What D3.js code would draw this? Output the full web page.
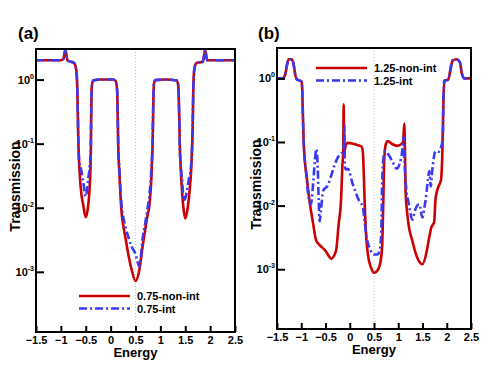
<!DOCTYPE html>
<html>
<head>
<meta charset="utf-8">
<script src="https://cdn.jsdelivr.net/npm/d3@7"></script>
<style>
  body { margin: 0; background: #fff; }
  svg { display: block; font-family: "Liberation Sans", Arial, sans-serif; font-weight: bold; }
</style>
</head>
<body>
<svg id="chart" width="491" height="379"></svg>
<script>
// panel (a) data, both series on one energy grid
const energyA = [-1.5, -1.2, -1.0, -0.95, -0.93, -0.91, -0.89, -0.87, -0.8, -0.73, -0.69, -0.67, -0.66, -0.65,
  -0.63, -0.6, -0.55, -0.5, -0.45, -0.42, -0.4, -0.39, -0.38, -0.35, -0.2, 0.05, 0.1, 0.13, 0.14, 0.15, 0.18,
  0.22, 0.26, 0.3, 0.36, 0.42, 0.5, 0.58, 0.64, 0.7, 0.74, 0.78, 0.82, 0.845, 0.86, 0.87, 0.9, 1.1, 1.33, 1.36,
  1.37, 1.38, 1.39, 1.41, 1.44, 1.47, 1.5, 1.55, 1.58, 1.61, 1.63, 1.65, 1.66, 1.68, 1.72, 1.85, 1.88, 1.9,
  1.92, 1.94, 2.1, 2.5];
const nonIntA = [2.0, 2.0, 2.0, 2.1, 2.5, 2.9, 2.5, 2.0, 1.9, 1.8, 1.4, 0.7, 0.3, 0.12,
  0.045, 0.02, 0.011, 0.0071, 0.011, 0.022, 0.06, 0.3, 0.75, 0.97, 1.0, 1.0, 0.95, 0.7, 0.35, 0.12, 0.03,
  0.0085, 0.005, 0.0033, 0.0018, 0.0011, 0.00072, 0.0011, 0.0024, 0.0048, 0.0075, 0.011, 0.03, 0.11, 0.5, 0.85, 0.98, 1.0, 0.97, 0.8,
  0.5, 0.25, 0.1, 0.04, 0.016, 0.009, 0.0068, 0.01, 0.016, 0.03, 0.06, 0.2, 0.6, 1.4, 1.8, 1.9, 2.4, 2.9,
  2.4, 2.0, 2.0, 2.0];
const intA = [2.0, 2.0, 2.0, 2.1, 2.5, 2.9, 2.5, 2.0, 1.9, 1.8, 1.4, 0.7, 0.3, 0.12,
  0.05, 0.042, 0.025, 0.015, 0.028, 0.045, 0.07, 0.3, 0.75, 0.97, 1.0, 1.0, 0.95, 0.7, 0.35, 0.12, 0.035,
  0.011, 0.0068, 0.005, 0.0034, 0.0025, 0.0019, 0.0012, 0.0032, 0.006, 0.0095, 0.016, 0.04, 0.13, 0.55, 0.85, 0.98, 1.0, 0.97, 0.8,
  0.5, 0.25, 0.09, 0.045, 0.025, 0.013, 0.014, 0.022, 0.03, 0.04, 0.065, 0.2, 0.6, 1.4, 1.8, 1.9, 2.4, 2.9,
  2.4, 2.0, 2.0, 2.0];

// panel (b) data
const energyBNon = [-1.5, -1.38, -1.33, -1.29, -1.26, -1.2, -1.16, -1.12, -1.08, -1.0, -0.98, -0.97, -0.95, -0.93,
  -0.88, -0.83, -0.76, -0.69, -0.62, -0.49, -0.43, -0.38, -0.33, -0.28, -0.23, -0.18, -0.15, -0.135, -0.125,
  -0.115, -0.08, -0.04, 0.05, 0.15, 0.24, 0.27, 0.29, 0.31, 0.34, 0.38, 0.44, 0.5, 0.57, 0.64, 0.67, 0.69, 0.71,
  0.74, 0.78, 0.88, 0.98, 1.06, 1.1, 1.125, 1.14, 1.15, 1.2, 1.29, 1.38, 1.5, 1.58, 1.64, 1.68, 1.74, 1.77, 1.83,
  1.88, 1.91, 1.93, 1.95, 2.03, 2.07, 2.12, 2.2, 2.27, 2.31, 2.36, 2.5];
const nonIntB = [1.0, 1.0, 1.15, 1.7, 2.0, 2.0, 1.7, 1.1, 0.95, 0.9, 0.7, 0.35, 0.1, 0.055,
  0.025, 0.012, 0.0055, 0.0028, 0.0024, 0.0019, 0.0016, 0.00145, 0.0016, 0.002, 0.005, 0.012, 0.045, 0.065, 0.39,
  0.07, 0.09, 0.097, 0.095, 0.09, 0.085, 0.07, 0.03, 0.01, 0.0032, 0.0016, 0.00105, 0.00088, 0.00095, 0.0014, 0.0025, 0.01, 0.05,
  0.09, 0.103, 0.092, 0.087, 0.092, 0.1, 0.195, 0.06, 0.018, 0.006, 0.0028, 0.0016, 0.0012, 0.0018, 0.0032, 0.0045, 0.0055, 0.013, 0.02,
  0.025, 0.07, 0.4, 0.92, 0.95, 1.3, 1.9, 2.0, 1.8, 1.2, 1.0, 1.0];
const energyBInt = [-1.5, -1.38, -1.33, -1.29, -1.26, -1.2, -1.16, -1.12, -1.08, -1.0, -0.98, -0.97, -0.95, -0.93,
  -0.9, -0.865, -0.82, -0.8, -0.76, -0.72, -0.69, -0.66, -0.64, -0.62, -0.59, -0.55, -0.45, -0.38, -0.31, -0.24,
  -0.18, -0.15, -0.12, -0.11, -0.1, -0.08, -0.04, 0.06, 0.17, 0.27, 0.34, 0.44, 0.5, 0.57, 0.62, 0.65, 0.67, 0.7,
  0.73, 0.8, 0.87, 0.97, 1.03, 1.08, 1.11, 1.13, 1.16, 1.22, 1.29, 1.33, 1.36, 1.43, 1.5, 1.54, 1.57, 1.61, 1.64,
  1.67, 1.7, 1.77, 1.83, 1.9, 1.92, 1.93, 1.95, 2.03, 2.07, 2.12, 2.2, 2.27, 2.31, 2.36, 2.5];
const intB = [1.0, 1.0, 1.15, 1.7, 2.0, 2.0, 1.7, 1.1, 0.95, 0.9, 0.7, 0.35, 0.1, 0.055,
  0.035, 0.017, 0.011, 0.0105, 0.02, 0.05, 0.077, 0.04, 0.012, 0.0057, 0.009, 0.017, 0.021, 0.03, 0.044, 0.058,
  0.065, 0.07, 0.09, 0.18, 0.04, 0.037, 0.038, 0.022, 0.013, 0.0093, 0.0035, 0.0019, 0.0017, 0.0017, 0.002, 0.004, 0.025, 0.06,
  0.072, 0.063, 0.051, 0.038, 0.046, 0.07, 0.12, 0.05, 0.02, 0.0105, 0.006, 0.0075, 0.009, 0.0105, 0.0065, 0.0095, 0.013, 0.025, 0.035,
  0.02, 0.035, 0.072, 0.07, 0.093, 0.12, 0.4, 0.92, 0.95, 1.3, 1.9, 2.0, 1.8, 1.2, 1.0, 1.0];

const xTicks = [-1.5, -1, -0.5, 0, 0.5, 1, 1.5, 2, 2.5];
const yTicks = [1, 0.1, 0.01, 0.001];
const yExp = ["0", "-1", "-2", "-3"];

const panels = [
  { label: "(a)", box: [36, 49, 235, 332], labelX: 18, legendY: 296, legendX: 79,
    names: ["0.75-non-int", "0.75-int"], x: energyA, red: nonIntA, xBlue: energyA, blue: intA },
  { label: "(b)", box: [277, 48, 471, 329], labelX: 258, legendY: 68, legendX: 316,
    names: ["1.25-non-int", "1.25-int"], x: energyBNon, red: nonIntB, xBlue: energyBInt, blue: intB }
];

const red = "#cc0000", blue = "#3a3af2";
const svg = d3.select("#chart");

panels.forEach(p => {
  const [x0, y0, x1, y1] = p.box;
  const x = d3.scaleLinear().domain([-1.5, 2.5]).range([x0, x1]);
  const y = d3.scaleLog().domain([1.15e-4, 3]).range([y1, y0]).clamp(true);
  const g = svg.append("g");

  g.append("text").attr("x", p.labelX).attr("y", 39).attr("font-size", 17).text(p.label);

  // dotted line at 0.5
  g.append("line").attr("x1", x(0.5)).attr("x2", x(0.5)).attr("y1", y0).attr("y2", y1)
    .attr("stroke", "#c4c4c4").attr("stroke-width", 1).attr("stroke-dasharray", "1,2");

  const line = d3.line().x(d => x(d[0])).y(d => y(d[1])).curve(d3.curveMonotoneX);
  const clipId = "clip" + p.label.replace(/\W/g, "");
  g.append("clipPath").attr("id", clipId).append("rect")
    .attr("x", x0).attr("y", y0).attr("width", x1 - x0).attr("height", y1 - y0);

  g.append("path").attr("clip-path", `url(#${clipId})`)
    .attr("d", line(d3.zip(p.x, p.red)))
    .attr("fill", "none").attr("stroke", red).attr("stroke-width", 2.6).attr("stroke-linejoin", "round");
  g.append("path").attr("clip-path", `url(#${clipId})`)
    .attr("d", line(d3.zip(p.xBlue, p.blue)))
    .attr("fill", "none").attr("stroke", blue).attr("stroke-width", 2.6)
    .attr("stroke-dasharray", "8,3,2,3");

  // frame
  g.append("rect").attr("x", x0).attr("y", y0).attr("width", x1 - x0).attr("height", y1 - y0)
    .attr("fill", "none").attr("stroke", "#000").attr("stroke-width", 2);

  // x axis, ticks inward
  const xa = g.append("g").attr("transform", `translate(0,${y1})`)
    .call(d3.axisBottom(x).tickValues(xTicks).tickSizeInner(-6).tickSizeOuter(0).tickPadding(4)
      .tickFormat(d => d3.format("")(d)));
  xa.select(".domain").remove();
  xa.selectAll("line").attr("stroke-width", 2);
  xa.selectAll("text").attr("font-size", 11).attr("font-family", null).attr("font-weight", "bold").attr("fill", "#000");

  // y axis, ticks inward with 10^n labels
  const ya = g.append("g").attr("transform", `translate(${x0},0)`)
    .call(d3.axisLeft(y).tickValues(yTicks).tickSizeInner(-8).tickSizeOuter(0).tickFormat(""));
  ya.select(".domain").remove();
  ya.selectAll("line").attr("stroke-width", 2);
  yTicks.forEach((v, i) => {
    const t = g.append("text").attr("x", x0 - 2).attr("y", y(v) + 4).attr("text-anchor", "end")
      .attr("font-size", 11);
    t.append("tspan").text("10");
    t.append("tspan").attr("font-size", 7).attr("dy", -5).text(yExp[i]);
  });

  g.append("text").attr("transform", `translate(${x0 - 16},${(y0 + y1) / 2 - 4}) rotate(-90)`)
    .attr("text-anchor", "middle").attr("font-size", 14).text("Transmission");
  g.append("text").attr("x", x(0.5)).attr("y", y1 + 25).attr("text-anchor", "middle")
    .attr("font-size", 13).text("Energy");

  // legend
  const lg = g.append("g");
  [[red, null], [blue, "8,3,2,3"]].forEach((s, i) => {
    const ly = p.legendY + i * 12.5;
    lg.append("line").attr("x1", p.legendX).attr("x2", p.legendX + 51).attr("y1", ly).attr("y2", ly)
      .attr("stroke", s[0]).attr("stroke-width", 2.6).attr("stroke-dasharray", s[1]);
    lg.append("text").attr("x", p.legendX + 58).attr("y", ly + 4).attr("font-size", 11).text(p.names[i]);
  });
});
</script>
</body>
</html>
